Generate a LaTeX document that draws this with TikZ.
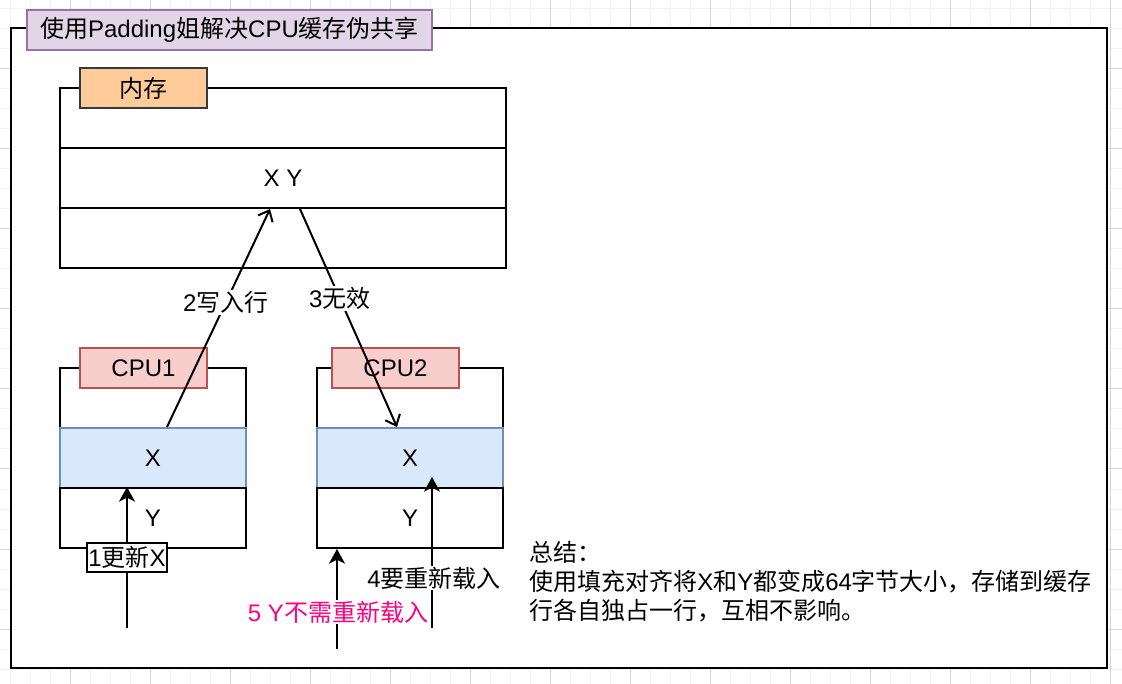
\documentclass[tikz,border=0pt]{standalone}
\usepackage{fontspec}
\setmainfont{Liberation Sans}
\newfontfamily\cjk{Noto Sans CJK SC}
\usetikzlibrary{arrows.meta,calc}
\newcommand\zh[1]{{\cjk #1}}
\definecolor{titlefill}{HTML}{E1D5E7}
\definecolor{titledraw}{HTML}{9673A6}
\definecolor{memfill}{HTML}{FFCC99}
\definecolor{memdraw}{HTML}{36393D}
\definecolor{cpufill}{HTML}{F8CECC}
\definecolor{cpudraw}{HTML}{B85450}
\definecolor{xfill}{HTML}{DAE8FC}
\definecolor{xdraw}{HTML}{6C8EBF}
\definecolor{pinktext}{HTML}{FF0080}
\definecolor{gridminor}{HTML}{F2F2F2}
\definecolor{gridmajor}{HTML}{D6D6D6}
\begin{document}
\begin{tikzpicture}[x=0.75pt,y=-0.75pt,
  every node/.style={font=\fontsize{18}{21.75}\selectfont},
  row/.style={draw, line width=1.5pt, fill=white, inner sep=0pt, minimum height=45pt},
  memrow/.style={row, minimum width=334.5pt},
  cpurow/.style={row, minimum width=139.5pt},
  xrow/.style={cpurow, fill=xfill, draw=xdraw},
  tagbox/.style={draw, line width=1.5pt, inner sep=0pt, minimum width=95.25pt, minimum height=30pt},
  lbl/.style={fill=white, inner sep=1pt},
  openarrow/.style={line width=1.5pt, -{Straight Barb[length=7pt,width=12pt,line width=1.5pt]}},
  blockarrow/.style={line width=1.5pt, -{Stealth[length=11pt,width=12pt,inset=3pt]}}
]
\useasboundingbox (0,0) rectangle (1122,684);
% background grid
\foreach \gx in {10,30,...,1110} \draw[gridminor, line width=0.75pt] (\gx,0) -- (\gx,684);
\foreach \gy in {9,29,...,669} \draw[gridminor, line width=0.75pt] (0,\gy) -- (1122,\gy);
\foreach \gx in {70,150,...,1110} \draw[gridmajor, line width=0.75pt] (\gx,0) -- (\gx,684);
\foreach \gy in {69,149,...,669} \draw[gridmajor, line width=0.75pt] (0,\gy) -- (1122,\gy);
% outer frame
\draw[line width=1.5pt, fill=white] (11,28) rectangle (1107,668);
\node[draw=titledraw, fill=titlefill, line width=1.5pt, inner sep=0pt, minimum width=303.75pt, minimum height=30pt] (title) at (229.5,30)
  {\zh{使用}Padding\zh{姐解决}CPU\zh{缓存伪共享}};
% memory
\node[memrow] (mem1) at (283,118) {};
\node[memrow] (mem2) at (283,178) {X Y};
\node[memrow] (mem3) at (283,238) {};
\node[tagbox, fill=memfill, draw=memdraw] (memtag) at (143.5,88) {\zh{内存}};
% CPU1
\node[cpurow] (c1top) at (153,398) {};
\node[xrow] (c1x) at (153,458) {X};
\node[cpurow] (c1y) at (153,518) {Y};
\node[tagbox, fill=cpufill, draw=cpudraw] (c1tag) at (143.5,368) {CPU1};
% CPU2
\node[cpurow] (c2top) at (410,398) {};
\node[xrow] (c2x) at (410,458) {X};
\node[cpurow] (c2y) at (410,518) {Y};
\node[tagbox, fill=cpufill, draw=cpudraw] (c2tag) at (395.5,368) {CPU2};
% arrows 2 and 3
\draw[openarrow] ([xshift=10.5pt]c1x.north) -- node[lbl, pos=0.57] (l2) {2\zh{写入行}} ([xshift=-9.75pt]mem2.south);
\draw[openarrow] ([xshift=12.75pt]mem2.south) -- node[lbl, pos=0.41] (l3) {3\zh{无效}} ([xshift=-9.75pt]c2x.north);
% arrow 1
\coordinate (s1) at (127,628);
\draw[blockarrow] (s1) -- (s1 |- c1y.north);
\node[draw, fill=white, line width=1.5pt, inner xsep=1pt, inner ysep=2.5pt] (l1) at (127,557.5) {1\zh{更新}X};
% arrow 4
\coordinate (s4) at (432,628);
\draw[blockarrow] (s4) -- ([yshift=7.5pt]s4 |- c2y.north);
\node[lbl] (l4) at (434,578) {4\zh{要重新载入}};
% arrow 5
\coordinate (s5) at (337,649);
\draw[blockarrow] (s5) -- (s5 |- c2y.south);
\node[lbl, text=pinktext] (l5) at (338,612) {5 Y\zh{不需重新载入}};
% summary
\node[anchor=north west, align=left, inner sep=0pt] (summary) at (529,541)
  {\zh{总结：}\\
   \zh{使用填充对齐将}X\zh{和}Y\zh{都变成}64\zh{字节大小，存储到缓存}\\
   \zh{行各自独占一行，互相不影响。}};
\end{tikzpicture}
\end{document}
